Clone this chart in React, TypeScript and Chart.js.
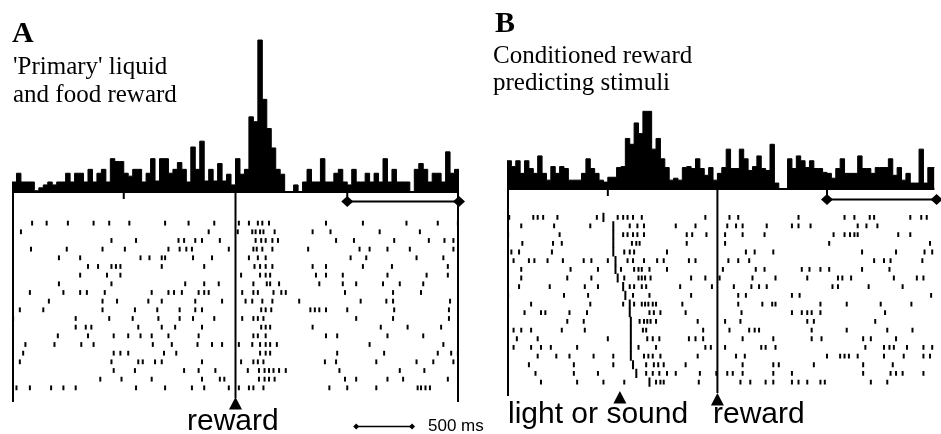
import React, { useEffect, useRef } from "react";
import { Chart, registerables } from "chart.js";

Chart.register(...registerables);

// ---------- DATA ----------
const BIN_MS = 40;
const xTicks = [-1000, 0, 1000];
const windowBracket = [1000, 2000];

// Panel A: PSTH (spikes per bin, a.u.), 40 ms bins from -2000 ms
const psthAStart = -2000;
const psthA = [
  10, 19, 10, 10, 10, 1, 4, 7, 10, 7,
  10, 10, 19, 10, 19, 19, 10, 23, 10, 19,
  23, 10, 34, 31, 31, 19, 16, 23, 23, 10,
  19, 34, 11, 34, 34, 19, 23, 30, 23, 10,
  46, 23, 52, 11, 23, 11, 29, 11, 18, 7,
  34, 18, 23, 77, 72, 156, 95, 65, 45, 23,
  18, 0, 0, 7, 0, 10, 23, 10, 10, 34,
  10, 10, 19, 23, 10, 7, 23, 10, 10, 19,
  10, 19, 10, 34, 10, 23, 10, 10, 10, 0,
  23, 29, 23, 10, 19, 19, 10, 41, 19, 23,
];

// Panel B: PSTH, 40 ms bins from -1920 ms
const psthBStart = -1920;
const psthB = [
  29, 23, 29, 16, 29, 21, 16, 34, 16, 9,
  23, 16, 23, 21, 9, 9, 9, 16, 31, 21,
  16, 9, 7, 12, 12, 22, 23, 52, 46, 68,
  57, 80, 80, 41, 52, 31, 22, 9, 11, 9,
  22, 23, 21, 31, 21, 14, 22, 9, 16, 22,
  41, 21, 21, 41, 31, 19, 23, 34, 21, 19,
  46, 6, 0, 0, 31, 21, 34, 29, 22, 29,
  21, 21, 17, 16, 11, 21, 31, 16, 16, 16,
  34, 21, 21, 16, 22, 22, 22, 31, 14, 22,
  9, 16, 6, 6, 41, 6, 22, 22,
];

// Panel A raster: spike times (ms, relative to reward), one array per trial
const rasterA: number[][] = [
  [-1820, -1690, -1500, -1270, -1130, -950, -630, -420, -190, 30, 120, 200, 240, 300, 810, 1140, 1530, 1810, 1990],
  [-1920, -240, 20, 150, 180, 220, 250, 350, 690, 850, 1290, 1650],
  [-1110, -890, -510, -460, -360, -300, -140, 180, 230, 270, 330, 380, 900, 1060, 1420, 1730, 1870, 1950],
  [-1830, -1510, -1190, -990, -600, -500, -440, -390, -60, 160, 190, 240, 330, 650, 1110, 1200, 1360, 1560, 1950],
  [-1580, -1390, -850, -770, -660, -630, -380, -210, 120, 200, 270, 1030, 1170, 1620, 1860],
  [-1320, -1230, -1110, -1070, -1030, -660, -280, 170, 220, 270, 330, 690, 810, 1140, 1400, 1900],
  [-1390, -1150, -1030, 50, 220, 270, 310, 720, 810, 960, 1360, 1710, 1900],
  [-1580, -1110, -450, -280, -150, 160, 280, 310, 390, 750, 960, 1080, 1320, 1470, 1680],
  [-1840, -1540, -1390, -1330, -1170, -750, -600, -550, -480, -330, -280, -240, 60, 160, 200, 340, 410, 450, 980, 1410, 1660],
  [-1670, -1190, -1060, -780, -660, -360, -120, 90, 150, 240, 330, 570, 1120, 1350, 1410, 1920],
  [-1930, -1720, -1190, -900, -700, -500, -360, -300, 230, 270, 320, 670, 710, 750, 810, 1000, 1420, 1910],
  [-1990, -1430, -1130, -920, -690, -500, -380, -190, 60, 160, 200, 250, 1080, 1410, 1910],
  [-1430, -1340, -1290, -870, -660, -540, -300, 230, 270, 310, 690, 1300, 1540, 1840],
  [-1590, -1320, -1090, -960, -850, -750, -600, -330, 160, 200, 270, 810, 910, 1360, 1680],
  [-1880, -1620, -1380, -1270, -740, -570, -340, -210, -120, 30, 150, 220, 270, 310, 370, 1200, 1860],
  [-1900, -1090, -1030, -960, -640, -530, 220, 270, 310, 910, 1330, 1810, 1930, 1990],
  [-1930, -1110, -870, -830, -720, -660, -300, 50, 160, 200, 250, 800, 900, 1260, 1620, 1770, 1950],
  [-1090, -900, -460, -330, -180, 110, 210, 260, 300, 340, 390, 450, 930, 1470, 1690],
  [-1210, -1020, -750, -300, -140, -100, 210, 260, 300, 350, 980, 1080, 1360, 1500, 1900],
  [-1960, -1840, -1650, -1540, -1430, -890, -630, -390, -280, -60, 30, 120, 160, 250, 840, 1000, 1260, 1630, 1660, 1700, 1740],
];

// Panel B raster: spike times (ms, relative to reward)
const rasterB: number[][] = [
  [-1900, -1680, -1640, -1590, -1460, -1100, -910, -860, -820, -770, -690, -110, 110, 190, 740, 1160, 1250, 1390, 1430, 1760, 1860, 1910],
  [-1790, -1490, -1160, -800, -730, -670, -380, -200, 90, 170, 230, 450, 680, 740, 850, 1280, 1360, 1460],
  [-1910, -1440, -860, -820, -770, -730, -670, -280, -230, -100, 70, 230, 430, 1060, 1160, 1210, 1250, 1280, 1650, 1760],
  [-1780, -1500, -1420, -780, -740, -710, -280, 70, 1020, 1940],
  [-1880, -1810, -1510, -850, -800, -760, -460, 260, 340, 510, 1320, 1630, 1890, 1960],
  [-1860, -1720, -1670, -1550, -1410, -1220, -1150, -1000, -820, -770, -670, -550, -490, -260, -200, 100, 190, 290, 1430, 1520, 1580, 1870],
  [-1790, -1340, -1090, -880, -760, -720, -690, -620, -460, 50, 350, 430, 770, 840, 940, 1020, 1320, 1570],
  [-1790, -1370, -1150, -850, -720, -690, -660, -610, -240, -110, 20, 320, 530, 820, 1100, 1140, 1220, 1610, 1820, 1880],
  [-1810, -1530, -1210, -1090, -800, -760, -690, -650, -340, -50, 150, 310, 380, 450, 1050, 1100, 1380, 1690],
  [-1910, -1400, -1180, -770, -620, -240, 190, 260, 680, 750, 1950],
  [-1700, -1160, -860, -760, -690, -660, -630, -590, -560, -320, 190, 410, 500, 530, 940, 1180, 1490, 1770],
  [-1760, -1610, -1570, -1350, -1190, -620, -580, -520, -290, 220, 680, 770, 820, 860, 940, 1530],
  [-1370, -1220, -710, -670, -640, -610, -560, -180, 70, 210, 820, 880, 1440],
  [-1860, -1790, -1700, -1420, -1210, -680, -650, -130, 110, 290, 340, 380, 860, 1180, 1550, 1780],
  [-1830, -1640, -1000, -640, -590, -530, -260, -200, -130, 230, 510, 860, 950, 1330, 1400, 1630],
  [-1860, -1700, -1610, -1520, -1280, -720, -560, -110, -60, 70, 400, 440, 530, 1350, 1520, 1570, 1610, 1730, 1880, 1960],
  [-1640, -1470, -1350, -1130, -950, -670, -630, -590, -520, -180, 170, 250, 1000, 1120, 1160, 1200, 1280, 1520, 1700, 1880, 1940],
  [-1720, -1310, -950, -650, -580, -540, -490, -290, 230, 510, 560, 880, 1330, 1600],
  [-1660, -1310, -1090, -650, -590, -530, -460, -380, -160, -10, 90, 140, 230, 510, 680, 1330, 1580, 1630, 1690, 1880],
  [-1610, -1280, -1040, -850, -560, -520, -490, -170, 210, 300, 440, 510, 680, 740, 820, 940, 980, 1400, 1550],
];

// Panel B: light / sound onset per trial (ms, relative to reward)
const stimOnsetB = [-1040, -950, -950, -950, -950, -930, -930, -910, -860, -840, -800, -800, -790, -790, -790, -790, -790, -770, -740, -620];

// Event markers (triangles) below the rasters
const eventsA = [{ t: 0, label: "reward" }];
const eventsB = [{ t: -890, label: "light or sound" }, { t: 0, label: "reward" }];
const scaleBarMs = 500;

// ---------- LAYOUT / STYLE ----------
const H = 434;
const SERIF = '"Liberation Serif", "Times New Roman", serif';
const SANS = '"Liberation Sans", Arial, sans-serif';

type Txt = { s: string; x: number; y: number; font: string };
type Panel = {
  psth: number[]; binStart: number; raster: number[][]; onsets?: number[];
  events: { t: number; label: string }[];
  xMin: number; xMax: number; left: number; width: number; padLeft: number; padRight: number;
  baseY: number; row1Y: number; row20Y: number; frameBottom: number; eventLineBottom: number;
  bracketY: number; rightBorder: boolean; triTops: number[]; texts: Txt[];
  labelPos: { x: number; y: number }[]; scaleBar?: { t0: number; y: number; textX: number };
};

const panelA: Panel = {
  psth: psthA, binStart: psthAStart, raster: rasterA, events: eventsA,
  xMin: -2000, xMax: 2000, left: 0, width: 500, padLeft: 12, padRight: 41,
  baseY: 191, row1Y: 223.3, row20Y: 392.7, frameBottom: 402, eventLineBottom: 398,
  bracketY: 201.5, rightBorder: true, triTops: [397],
  texts: [
    { s: "A", x: 12, y: 41.5, font: `bold 30px ${SERIF}` },
    { s: "'Primary' liquid", x: 13, y: 74, font: `25px ${SERIF}` },
    { s: "and food reward", x: 13, y: 101.5, font: `25px ${SERIF}` },
  ],
  labelPos: [{ x: 187, y: 430 }],
  scaleBar: { t0: 1080, y: 426.5, textX: 428 },
};

const panelB: Panel = {
  psth: psthB, binStart: psthBStart, raster: rasterB, onsets: stimOnsetB, events: eventsB,
  xMin: -1920, xMax: 1980, left: 480, width: 461, padLeft: 27, padRight: 0,
  baseY: 188, row1Y: 217.3, row20Y: 387.3, frameBottom: 396, eventLineBottom: 393,
  bracketY: 199.5, rightBorder: false, triTops: [391, 393],
  texts: [
    { s: "B", x: 15, y: 32.3, font: `bold 30px ${SERIF}` },
    { s: "Conditioned reward", x: 13, y: 63.3, font: `25px ${SERIF}` },
    { s: "predicting stimuli", x: 13, y: 90.3, font: `25px ${SERIF}` },
  ],
  labelPos: [{ x: 28, y: 423 }, { x: 233, y: 423 }],
};

function axisRange(v1: number, p1: number, v2: number, p2: number) {
  const b = (p2 - p1) / (v2 - v1);
  const a = p1 - b * v1;
  const vt = (0 - a) / b;
  const vb = (H - a) / b;
  return { min: Math.min(vt, vb), max: Math.max(vt, vb), reverse: b > 0 };
}

function makeChart(canvas: HTMLCanvasElement, p: Panel) {
  const hist = p.psth.map((v, i) => ({ x: p.binStart + i * BIN_MS, y: v }));
  hist.push({ x: p.binStart + p.psth.length * BIN_MS, y: p.psth[p.psth.length - 1] });
  const spikes = p.raster.flatMap((row, i) => row.map((t) => ({ x: t, y: i + 1 })));
  const yh = axisRange(0, p.baseY, 100, p.baseY - 100);
  const yr = axisRange(1, p.row1Y, 20, p.row20Y);

  const datasets: any[] = [
    {
      type: "line", data: hist, yAxisID: "yh", stepped: "before", fill: "origin",
      backgroundColor: "#000", borderColor: "#000", borderWidth: 1, pointRadius: 0,
    },
    {
      type: "scatter", data: spikes, yAxisID: "yr", pointStyle: "line", rotation: 90,
      pointRadius: 2.4, borderWidth: 2, borderColor: "#000", backgroundColor: "#000",
    },
  ];
  if (p.onsets) {
    datasets.push({
      type: "scatter", data: p.onsets.map((t, i) => ({ x: t, y: i + 1 })), yAxisID: "yr",
      pointStyle: "line", rotation: 90, pointRadius: 4.6, borderWidth: 2,
      borderColor: "#000", backgroundColor: "#000",
    });
  }

  const decor = {
    id: "decor",
    afterDatasetsDraw(chart: any) {
      const ctx: CanvasRenderingContext2D = chart.ctx;
      const xs = chart.scales.x;
      const ca = chart.chartArea;
      const X = (t: number) => xs.getPixelForValue(t);
      const base = p.baseY;
      ctx.save();
      ctx.strokeStyle = "#000";
      ctx.fillStyle = "#000";
      ctx.lineCap = "butt";
      const line = (x1: number, y1: number, x2: number, y2: number, w = 2) => {
        ctx.lineWidth = w;
        ctx.beginPath();
        ctx.moveTo(x1, y1);
        ctx.lineTo(x2, y2);
        ctx.stroke();
      };
      const diamond = (cx: number, cy: number, hw: number, hh: number) => {
        ctx.beginPath();
        ctx.moveTo(cx, cy - hh);
        ctx.lineTo(cx + hw, cy);
        ctx.lineTo(cx, cy + hh);
        ctx.lineTo(cx - hw, cy);
        ctx.closePath();
        ctx.fill();
      };
      // top axis
      line(ca.left, base + 1, ca.right, base + 1);
      // frame
      line(ca.left + 1, base, ca.left + 1, p.frameBottom);
      if (p.rightBorder) line(X(p.xMax) - 1, base, X(p.xMax) - 1, p.frameBottom);
      // reward line
      line(X(0), base, X(0), p.eventLineBottom);
      // ticks
      xTicks.forEach((t) => {
        if (t === 0) return;
        const xt = X(t);
        line(xt, base, xt, t === windowBracket[0] ? p.bracketY : base + 8);
      });
      // bracket
      const b0 = X(windowBracket[0]);
      const b1 = X(windowBracket[1]);
      line(b0, p.bracketY, Math.min(b1, ca.right + 10), p.bracketY);
      diamond(b0, p.bracketY, 6, 5.5);
      diamond(b1, p.bracketY, 6, 5.5);
      // event triangles and labels
      p.events.forEach((ev, i) => {
        const cx = X(ev.t);
        const top = p.triTops[i];
        ctx.beginPath();
        ctx.moveTo(cx, top);
        ctx.lineTo(cx + 6.5, top + 12.5);
        ctx.lineTo(cx - 6.5, top + 12.5);
        ctx.closePath();
        ctx.fill();
        ctx.font = `30px ${SANS}`;
        ctx.textBaseline = "alphabetic";
        ctx.textAlign = "left";
        ctx.fillText(ev.label, p.labelPos[i].x, p.labelPos[i].y);
      });
      // scale bar
      if (p.scaleBar) {
        const s0 = X(p.scaleBar.t0);
        const s1 = X(p.scaleBar.t0 + scaleBarMs);
        line(s0, p.scaleBar.y, s1, p.scaleBar.y, 1.5);
        diamond(s0, p.scaleBar.y, 3, 3);
        diamond(s1, p.scaleBar.y, 3, 3);
        ctx.font = `17px ${SANS}`;
        ctx.fillText(`${scaleBarMs} ms`, p.scaleBar.textX, p.scaleBar.y + 4.5);
      }
      // titles
      p.texts.forEach((tx) => {
        ctx.font = tx.font;
        ctx.textAlign = "left";
        ctx.textBaseline = "alphabetic";
        ctx.fillText(tx.s, tx.x, tx.y);
      });
      ctx.restore();
    },
  };

  return new Chart(canvas, {
    type: "scatter",
    data: { datasets },
    options: {
      animation: false,
      responsive: false,
      maintainAspectRatio: false,
      devicePixelRatio: 1,
      events: [],
      layout: { padding: { left: p.padLeft, right: p.padRight, top: 0, bottom: 0 } },
      plugins: { legend: { display: false }, tooltip: { enabled: false } },
      scales: {
        x: { type: "linear", min: p.xMin, max: p.xMax, display: false },
        yh: { type: "linear", position: "left", min: yh.min, max: yh.max, reverse: yh.reverse, display: false },
        yr: { type: "linear", position: "left", min: yr.min, max: yr.max, reverse: yr.reverse, display: false },
      },
    } as any,
    plugins: [decor],
  });
}

export default function App() {
  const refA = useRef<HTMLCanvasElement>(null);
  const refB = useRef<HTMLCanvasElement>(null);
  useEffect(() => {
    const a = makeChart(refA.current!, panelA);
    const b = makeChart(refB.current!, panelB);
    return () => {
      a.destroy();
      b.destroy();
    };
  }, []);
  return (
    <div style={{ position: "fixed", left: 0, top: 0, width: 941, height: H, background: "#fff", overflow: "hidden" }}>
      <canvas ref={refA} width={panelA.width} height={H}
        style={{ position: "absolute", left: panelA.left, top: 0, width: panelA.width, height: H }} />
      <canvas ref={refB} width={panelB.width} height={H}
        style={{ position: "absolute", left: panelB.left, top: 0, width: panelB.width, height: H }} />
    </div>
  );
}
